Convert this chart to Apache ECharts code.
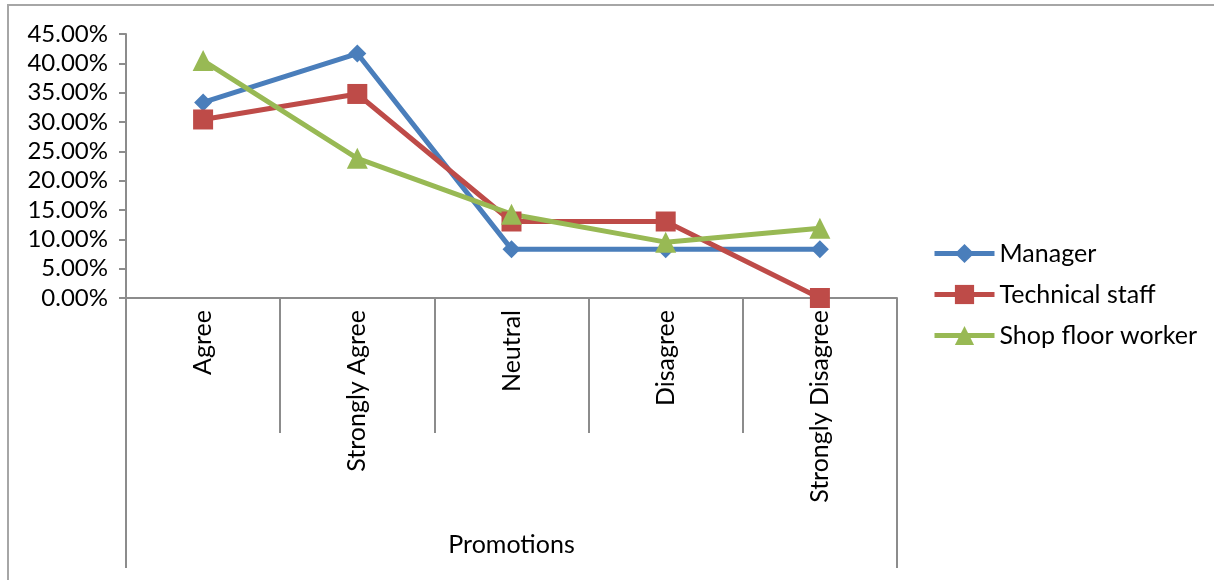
<!DOCTYPE html>
<html>
<head>
<meta charset="utf-8">
<script src="https://cdn.jsdelivr.net/npm/echarts@6/dist/echarts.min.js"></script>
<style>
  html, body { margin: 0; padding: 0; background: #fff; }
  #chart { width: 1214px; height: 580px; }
</style>
</head>
<body>
<div id="chart"></div>
<script>
// Survey responses on promotions, share of each staff group
const categories = ['Agree', 'Strongly Agree', 'Neutral', 'Disagree', 'Strongly Disagree'];
const groupLabel = ['Promotions'];
const manager = [0.3333, 0.4167, 0.0833, 0.0833, 0.0833];
const technicalStaff = [0.3043, 0.3478, 0.1304, 0.1304, 0.0];
const shopFloorWorker = [0.4048, 0.2381, 0.1429, 0.0952, 0.1190];
const seriesNames = ['Manager', 'Technical staff', 'Shop floor worker'];

const FONT = 'Lato, "Open Sans", sans-serif';
const AXIS_GREY = '#8c8c8c';

const chart = echarts.init(document.getElementById('chart'), null, { renderer: 'canvas' });

function lineSeries(name, data, color, symbol, size) {
  return {
    name: name,
    type: 'line',
    data: data,
    symbol: symbol,
    symbolSize: size,
    showAllSymbol: true,
    lineStyle: { color: color, width: 5 },
    itemStyle: { color: color },
    emphasis: { disabled: true },
    animation: false
  };
}

chart.setOption({
  backgroundColor: '#fff',
  animation: false,
  grid: { left: 126, right: 317, top: 34, bottom: 282 },
  legend: {
    orient: 'vertical',
    left: 932,
    top: 241,
    padding: 0,
    itemWidth: 60,
    itemHeight: 24,
    itemGap: 16,
    itemTextGap: 5,
    lineStyle: { width: 5 },
    textStyle: { fontFamily: FONT, fontSize: 25, color: '#000' },
    data: seriesNames
  },
  xAxis: [
    {
      type: 'category',
      data: categories,
      position: 'bottom',
      boundaryGap: true,
      axisLine: { show: true, lineStyle: { color: AXIS_GREY, width: 2 } },
      axisTick: { show: true, length: 135, lineStyle: { color: AXIS_GREY, width: 2 } },
      axisLabel: {
        rotate: 90,
        margin: 12,
        fontFamily: FONT,
        fontSize: 25,
        color: '#000'
      }
    },
    {
      type: 'category',
      data: groupLabel,
      position: 'bottom',
      offset: 0,
      boundaryGap: true,
      axisLine: { show: false },
      axisTick: { show: true, length: 270, lineStyle: { color: AXIS_GREY, width: 2 } },
      axisLabel: {
        margin: 234,
        fontFamily: FONT,
        fontSize: 25,
        color: '#000'
      }
    }
  ],
  yAxis: {
    type: 'value',
    min: 0,
    max: 0.45,
    interval: 0.05,
    axisLine: { show: true, lineStyle: { color: AXIS_GREY, width: 2 } },
    axisTick: { show: true, length: 7, lineStyle: { color: AXIS_GREY, width: 2 } },
    splitLine: { show: false },
    axisLabel: {
      margin: 18,
      fontFamily: FONT,
      fontSize: 24,
      color: '#000',
      formatter: v => (v * 100).toFixed(2) + '%'
    }
  },
  graphic: [
    {
      type: 'polyline',
      silent: true,
      shape: { points: [[8, 580], [8, 5], [1214, 5]] },
      style: { stroke: '#a6a6a6', lineWidth: 2, fill: null }
    }
  ],
  series: [
    lineSeries(seriesNames[0], manager, '#4A7EBB', 'diamond', 18),
    lineSeries(seriesNames[1], technicalStaff, '#BE4B48', 'rect', 20),
    lineSeries(seriesNames[2], shopFloorWorker, '#98B954', 'triangle', 21)
  ]
});
</script>
</body>
</html>
